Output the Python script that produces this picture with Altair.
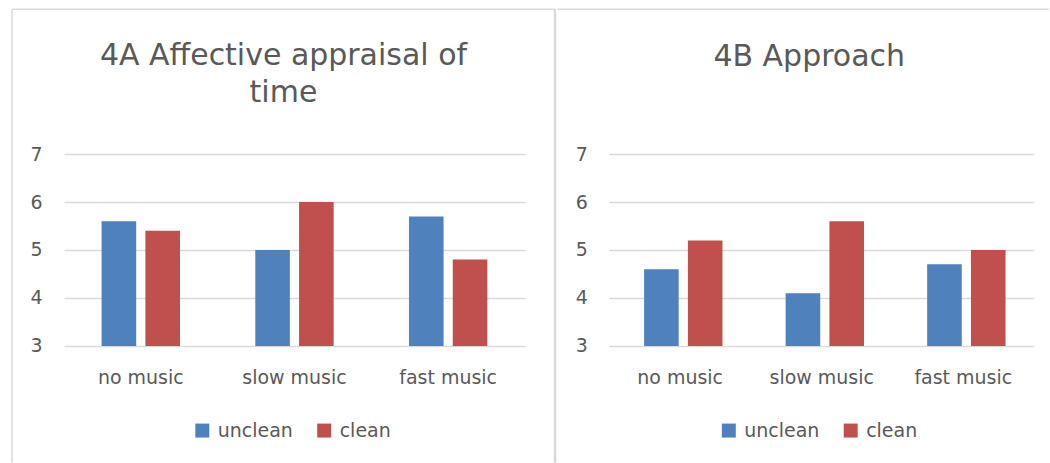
import altair as alt
import pandas as pd

categories = ["no music", "slow music", "fast music"]
conditions = ["unclean", "clean"]
a_unclean = [5.6, 5.0, 5.7]
a_clean = [5.4, 6.0, 4.8]
b_unclean = [4.6, 4.1, 4.7]
b_clean = [5.2, 5.6, 5.0]
y_ticks = [3, 4, 5, 6, 7]
colors = ["#4F81BD", "#C0504D"]
title_a = ["4A Affective appraisal of", "time"]
title_b = "4B Approach"

FONT = "DejaVu Sans"
TEXT = "#595959"
GRID = "#d9d9d9"
BORDER = "#d9d9d9"


def frame(unclean, clean):
    rows = []
    for i, c in enumerate(categories):
        rows.append({"music": c, "condition": "unclean", "value": unclean[i]})
        rows.append({"music": c, "condition": "clean", "value": clean[i]})
    return pd.DataFrame(rows)


def rule(x, x2, y, y2, w):
    return alt.Chart(pd.DataFrame({"k": [0]})).mark_rule(
        color=BORDER, strokeWidth=w
    ).encode(x=alt.value(x), x2=alt.value(x2), y=alt.value(y), y2=alt.value(y2))


def panel(df, width, title, title_dx, title_offset, legend_x, borders):
    bars = alt.Chart(df).mark_bar().encode(
        x=alt.X(
            "music:N", sort=categories, title=None,
            scale=alt.Scale(paddingInner=0.49, paddingOuter=0.245),
            axis=alt.Axis(labelAngle=0, domain=False, ticks=False, labelPadding=23,
                          labelFontSize=19, labelColor=TEXT, labelFont=FONT),
        ),
        xOffset=alt.XOffset("condition:N", sort=conditions,
                            scale=alt.Scale(paddingInner=0.21, paddingOuter=0)),
        y=alt.Y(
            "value:Q", title=None,
            scale=alt.Scale(domain=[3, 7], nice=False, zero=False),
            axis=alt.Axis(values=y_ticks, domain=False, ticks=False, labelPadding=22,
                          grid=True, gridColor=GRID, gridWidth=1.5,
                          labelFontSize=19, labelColor=TEXT, labelFont=FONT),
        ),
        y2=alt.datum(3),
        color=alt.Color(
            "condition:N", sort=conditions,
            scale=alt.Scale(domain=conditions, range=colors),
            legend=alt.Legend(title=None, orient="none", legendX=legend_x, legendY=267,
                              direction="horizontal", symbolType="square", symbolSize=196,
                              symbolStrokeWidth=0, symbolOpacity=1, labelFontSize=19,
                              labelColor=TEXT, labelFont=FONT, labelOffset=6,
                              columnPadding=21, padding=0),
        ),
    )
    layers = [rule(*b) for b in borders] + [bars]
    return alt.layer(*layers).properties(
        width=width, height=192,
        title=alt.TitleParams(title, fontSize=30, font=FONT, color=TEXT, fontWeight="normal",
                              anchor="middle", frame="group", dx=title_dx, offset=title_offset,
                              lineHeight=37),
    )


left = panel(
    frame(a_unclean, a_clean), 461.5, title_a, -11, -100, 129,
    [(-52, -52, -145, 309, 1.5), (-52, 491.5, -145, -145, 1.5), (491.5, 491.5, -145, 309, 2.5)],
)
right = panel(
    frame(b_unclean, b_clean), 425, title_b, -12.5, -64, 110,
    [(-52, 440, -145, -145, 1.5)],
)

chart = alt.hconcat(left, right, spacing=0).resolve_scale(color="independent").resolve_legend(
    color="independent"
).properties(
    padding={"left": 11, "top": 7, "right": 0, "bottom": 0}
).configure_view(stroke=None)

chart.save("out.html", embed_options={"renderer": "svg", "actions": False})
